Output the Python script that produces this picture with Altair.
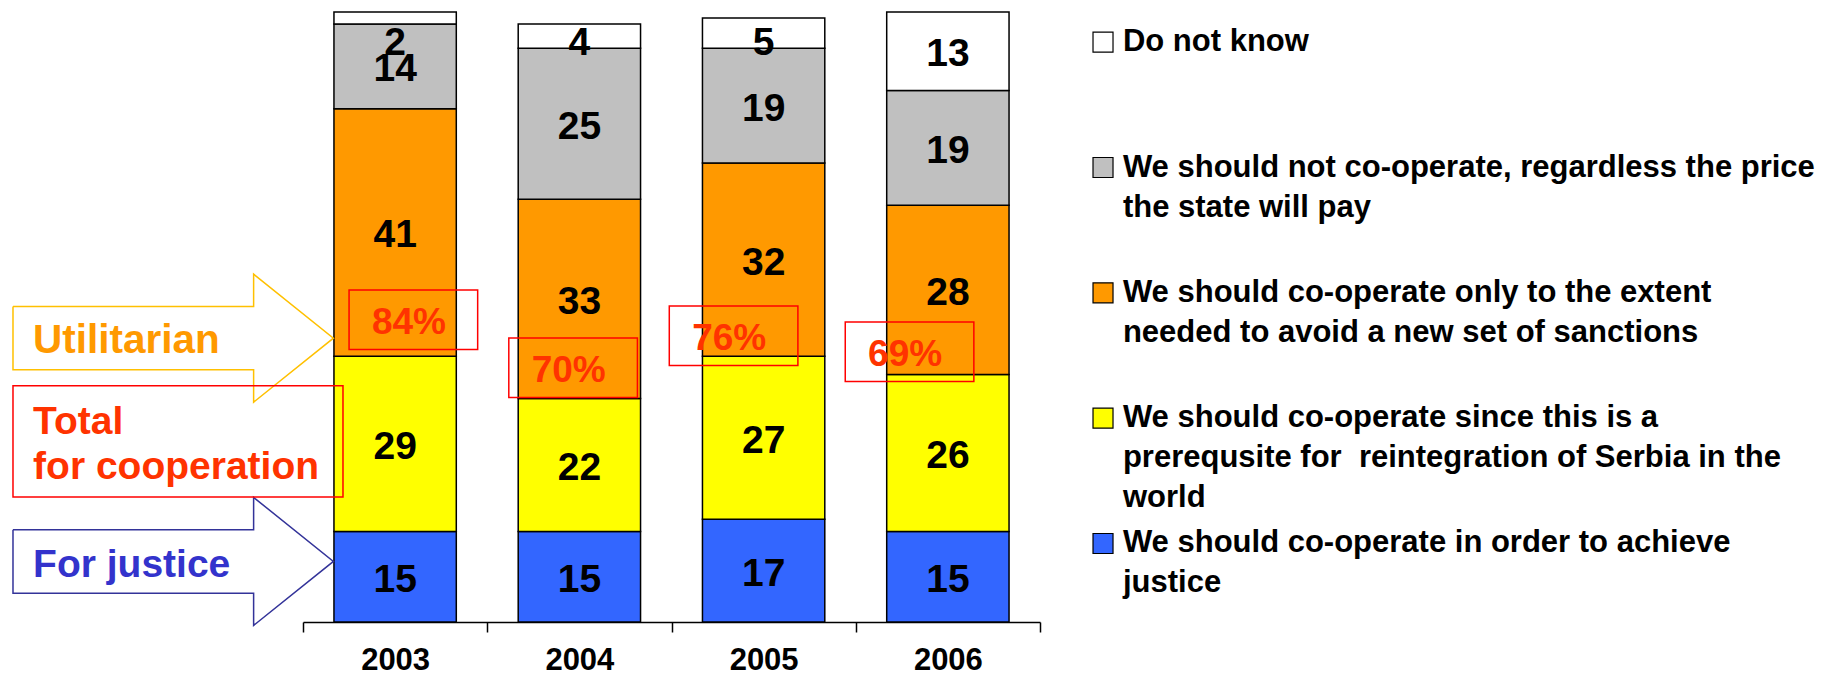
import altair as alt
import pandas as pd

# ---------------- data ----------------
years = ["2003", "2004", "2005", "2006"]

categories = [
    "We should co-operate in order to achieve justice",
    "We should co-operate since this is a prerequsite for  reintegration of Serbia in the world",
    "We should co-operate only to the extent needed to avoid a new set of sanctions",
    "We should not co-operate, regardless the price the state will pay",
    "Do not know",
]
legend_lines = [
    ["We should co-operate in order to achieve", "justice"],
    ["We should co-operate since this is a", "prerequsite for\u00a0 reintegration of Serbia in the", "world"],
    ["We should co-operate only to the extent", "needed to avoid a new set of sanctions"],
    ["We should not co-operate, regardless the price", "the state will pay"],
    ["Do not know"],
]

justice = [15, 15, 17, 15]
reintegration = [29, 22, 27, 26]
sanctions = [41, 33, 32, 28]
not_cooperate = [14, 25, 19, 19]
do_not_know = [2, 4, 5, 13]

total_labels = ["84%", "70%", "76%", "69%"]

utilitarian_label = "Utilitarian"
total_lines = ["Total", "for cooperation"]
justice_label = "For justice"

# ---------------- styles ----------------
colors = ["#3366FF", "#FFFF00", "#FF9900", "#C0C0C0", "#FFFFFF"]
ARIAL = "Liberation Sans"
ANN_FONT = "Liberation Sans"
RED_TEXT = "#FF3300"
RED_BOX = "#FF0000"
UTIL_STROKE = "#FFC000"
UTIL_TEXT = "#FF9900"
JUST_STROKE = "#333399"
JUST_TEXT = "#3333CC"

# ---------------- layout (chart units: x = category index, y = percent) ----------------
Y_MAX = 101
LABEL_TOP = Y_MAX - 4.7
ARROW_LEFT, ARROW_BASE, ARROW_TIP = -1.574, -0.268, 0.165
BODY_H, HEAD_H = 5.25, 10.6
UTIL_Y, JUST_Y = 47.0, 10.03
TEXT_X = -1.465
TOTAL_BOX = (-1.574, 0.217, 20.7, 39.1)
TOTAL_LINE_Y = [33.06, 25.73]
PCT_DX = [0.099, -0.034, -0.163, -0.208]
PCT_Y = [50.05, 42.1, 47.4, 44.75]
PCT_HW, PCT_HH = 0.349, 4.94
LEG_SYM_X, LEG_TEXT_X = 4.342, 4.450
LEG_TOP, LEG_STEP, LEG_LINE = 96.0, 20.75, 6.62

# ---------------- tables ----------------
values = [justice, reintegration, sanctions, not_cooperate, do_not_know]
rows = []
for yi, yr in enumerate(years):
    base = 0
    for ci, cat in enumerate(categories):
        v = values[ci][yi]
        rows.append(dict(year=yr, category=cat, value=v, y0=base, y1=base + v,
                         label_y=min(base + v / 2, LABEL_TOP)))
        base += v
bars_df = pd.DataFrame(rows)

color_scale = alt.Scale(domain=categories, range=colors)
y_scale = alt.Scale(domain=[0, Y_MAX], nice=False, zero=True)
band_scale = alt.Scale(paddingInner=0.336, paddingOuter=0.168)
step_scale = alt.Scale(type="band", paddingInner=0, paddingOuter=0)
ax_scale = alt.Scale(domain=[0, 4], nice=False, zero=False)

x_axis = alt.Axis(title=None, labelAngle=0, labelFont=ARIAL, labelFontWeight="bold",
                  labelFontSize=31, labelColor="black", labelPadding=13,
                  tickSize=10, tickColor="black", tickWidth=1.5,
                  domainColor="black", domainWidth=1.5, tickBand="extent", grid=False)

# category axis: ticks between the year groups, labels centred under the bars
axis_layer = alt.Chart(pd.DataFrame({"year": years})).mark_point(opacity=0).encode(
    x=alt.X("year:N", sort=years, scale=step_scale, axis=x_axis),
)

bars = alt.Chart(bars_df).mark_bar(stroke="black", strokeWidth=1.5).encode(
    x=alt.X("year:N", sort=years, scale=band_scale, axis=None),
    y=alt.Y("y0:Q", scale=y_scale, axis=None),
    y2="y1:Q",
    color=alt.Color("category:N", scale=color_scale, legend=None),
)
bar_labels = alt.Chart(bars_df).mark_text(font=ARIAL, fontSize=39, fontWeight="bold",
                                         color="black", dy=3).encode(
    x=alt.X("year:N", sort=years, scale=band_scale, axis=None),
    y=alt.Y("label_y:Q", scale=y_scale, axis=None),
    text="value:Q",
)


def arrow_layer(cy, stroke):
    pts = [(ARROW_LEFT, cy + BODY_H), (ARROW_BASE, cy + BODY_H), (ARROW_BASE, cy + HEAD_H),
           (ARROW_TIP, cy), (ARROW_BASE, cy - HEAD_H), (ARROW_BASE, cy - BODY_H),
           (ARROW_LEFT, cy - BODY_H), (ARROW_LEFT, cy + BODY_H)]
    df = pd.DataFrame([dict(o=i, ax=x, ay=y) for i, (x, y) in enumerate(pts)])
    return alt.Chart(df).mark_line(color=stroke, strokeWidth=1.5, strokeJoin="miter").encode(
        x=alt.X("ax:Q", scale=ax_scale, axis=None),
        y=alt.Y("ay:Q", scale=y_scale, axis=None),
        order="o:Q",
    )


def text_layer(df, **kw):
    return alt.Chart(df).mark_text(**kw).encode(
        x=alt.X("tx:Q", scale=ax_scale, axis=None),
        y=alt.Y("ty:Q", scale=y_scale, axis=None),
        text="t:N",
    )


def box_layer(df):
    return alt.Chart(df).mark_rect(fill="transparent", stroke=RED_BOX, strokeWidth=1.5).encode(
        x=alt.X("bx1:Q", scale=ax_scale, axis=None), x2="bx2:Q",
        y=alt.Y("by1:Q", scale=y_scale, axis=None), y2="by2:Q",
    )


ann_style = dict(align="left", baseline="middle", font=ANN_FONT, fontWeight="bold")

util_arrow = arrow_layer(UTIL_Y, UTIL_STROKE)
just_arrow = arrow_layer(JUST_Y, JUST_STROKE)
util_text = text_layer(pd.DataFrame([dict(tx=TEXT_X, ty=UTIL_Y - 0.5, t=utilitarian_label)]),
                       color=UTIL_TEXT, fontSize=40.5, **ann_style)
just_text = text_layer(pd.DataFrame([dict(tx=TEXT_X, ty=JUST_Y - 0.6, t=justice_label)]),
                       color=JUST_TEXT, fontSize=39, **ann_style)

tb = TOTAL_BOX
total_box = box_layer(pd.DataFrame([dict(bx1=tb[0], bx2=tb[1], by1=tb[2], by2=tb[3])]))
total_text = text_layer(
    pd.DataFrame([dict(tx=TEXT_X, ty=TOTAL_LINE_Y[j], t=s) for j, s in enumerate(total_lines)]),
    color=RED_TEXT, fontSize=39, **ann_style)

pct_rows = []
for i, lab in enumerate(total_labels):
    cx = i + 0.5 + PCT_DX[i]
    cy = PCT_Y[i]
    pct_rows.append(dict(bx1=cx - PCT_HW, bx2=cx + PCT_HW, by1=cy - PCT_HH, by2=cy + PCT_HH,
                         tx=cx - 0.024, ty=cy, t=lab))
pct_df = pd.DataFrame(pct_rows)
pct_boxes = box_layer(pct_df)
pct_text = text_layer(pct_df, align="center", baseline="middle", font=ANN_FONT, fontSize=37,
                      fontWeight="bold", color=RED_TEXT, dy=3)

# legend, drawn as marks (top entry = last category)
sym_rows, line_rows = [], []
for k, ci in enumerate(reversed(range(len(categories)))):
    ey = LEG_TOP - LEG_STEP * k
    sym_rows.append(dict(category=categories[ci], sx=LEG_SYM_X, sy=ey))
    for j, line in enumerate(legend_lines[ci]):
        line_rows.append(dict(tx=LEG_TEXT_X, ty=ey - LEG_LINE * j, t=line))
leg_sym = alt.Chart(pd.DataFrame(sym_rows)).mark_square(size=400, stroke="black", strokeWidth=1.2,
                                                        opacity=1).encode(
    x=alt.X("sx:Q", scale=ax_scale, axis=None),
    y=alt.Y("sy:Q", scale=y_scale, axis=None),
    color=alt.Color("category:N", scale=color_scale, legend=None),
)
leg_text = text_layer(pd.DataFrame(line_rows), align="left", baseline="middle", font=ARIAL,
                      fontSize=31, fontWeight="bold", color="black")

chart = alt.layer(
    axis_layer, bars, bar_labels, util_arrow, just_arrow, total_box, util_text, total_text,
    just_text, pct_boxes, pct_text, leg_sym, leg_text,
).resolve_scale(x="independent").properties(
    width=737, height=610,
    padding={"left": 295, "top": 4, "right": 779, "bottom": 56},
    autosize=alt.AutoSizeParams(type="none"),
).configure(background="white").configure_view(stroke="transparent", strokeWidth=0)

chart.save("out.html", embed_options={"renderer": "svg", "actions": False})
